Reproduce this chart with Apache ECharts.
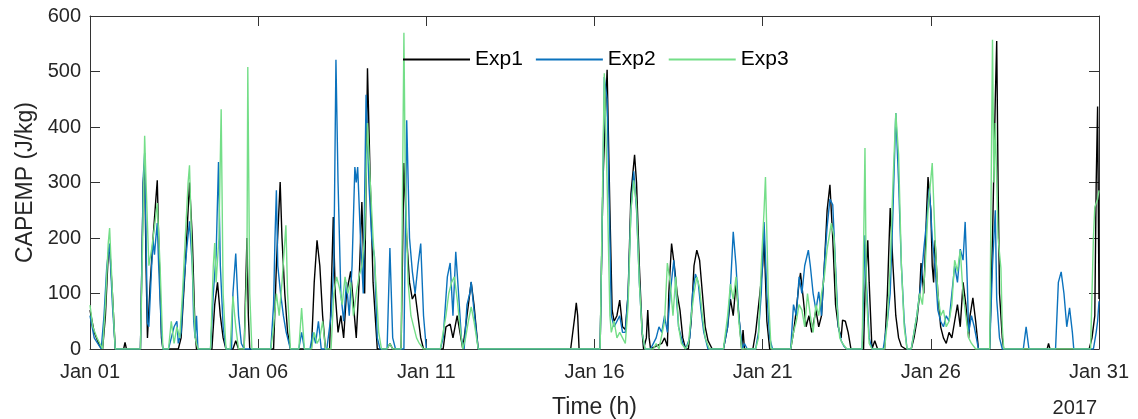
<!DOCTYPE html>
<html><head><meta charset="utf-8">
<script src="https://cdn.jsdelivr.net/npm/echarts@6/dist/echarts.min.js"></script>
<style>html,body{margin:0;padding:0;background:#fff}#c{width:1138px;height:419px}</style>
</head><body><div id="c"></div>
<script>
// hours since Jan 01 00:00, value (J/kg)
const seriesNames = ['Exp1', 'Exp2', 'Exp3'];
const xTickLabels = ['Jan 01', 'Jan 06', 'Jan 11', 'Jan 16', 'Jan 21', 'Jan 26', 'Jan 31'];
const yearLabel = '2017';

const exp1 = [[0,70],[3,30],[7,5],[9,0],[11,60],[13,170],[14,185],[16,100],[18,0],[24,0],[25,12],[26,0],[36,0],[38,300],[39,335],[40,150],[41,20],[43,120],[45,200],[47,270],[48,304],[49,200],[51,20],[52,0],[63,0],[65,20],[68,150],[71,300],[73,200],[75,30],[76,0],[87,0],[89,80],[91,120],[93,60],[95,20],[97,0],[102,0],[104,15],[106,0],[110,0],[112,200],[113,60],[114,0],[131,0],[133,150],[135.7,301],[137,200],[139,100],[141,30],[143,0],[158,0],[160,120],[162,196],[164,150],[166,60],[168,0],[171,0],[173.6,238],[175,100],[177,30],[179,60],[181,20],[183,100],[186,140],[188,80],[190,20],[192,120],[194,265],[196,100],[198,506],[200,300],[202,120],[205,0],[212,0],[214,10],[216,0],[222,0],[224,335],[226,200],[228,120],[230,90],[232,100],[234,60],[236,20],[238,0],[252,0],[254,40],[257,45],[259,20],[262,60],[264,30],[266,0],[268,40],[270,80],[272,120],[274,80],[277,0],[343,0],[346,60],[347,83],[348,60],[349,0],[364,0],[366,300],[369,503],[371,250],[372.6,70],[374,50],[376,60],[378,88],[380,40],[382,35],[384,100],[386,280],[388.6,350],[390,300],[392,150],[394,30],[395,0],[397,20],[398,70],[399,20],[400,0],[404,5],[408,10],[410,20],[412,5],[413,100],[415,190],[417,150],[419,100],[421,70],[423,20],[425,0],[427,0],[429,50],[431,150],[433,178],[435,160],[437,100],[439,40],[441,15],[444,0],[452,0],[455,40],[457,90],[459,60],[461,120],[463,60],[465,0],[466,34],[467,0],[473,0],[475,30],[478,100],[480,150],[481,202],[483,50],[485,0],[500,0],[502,30],[504,70],[506,120],[507,137],[509,90],[511,40],[513,60],[515,30],[518,70],[520,40],[522,60],[524,150],[526,250],[528,296],[530,200],[532,80],[534,40],[536,20],[537,52],[539,50],[541,30],[543,0],[552,0],[553,100],[555,196],[556,120],[558,0],[560,15],[562,0],[567,0],[569,100],[571,254],[573,150],[575,60],[577,20],[579,5],[582,0],[586,0],[588,20],[590,50],[592,100],[593,155],[595,100],[597,250],[598,310],[600,250],[601,150],[602,120],[603,196],[605,100],[607,40],[609,20],[611,10],[613,30],[615,20],[617,50],[619,80],[621,40],[623,120],[625,80],[627,20],[628,60],[630,92],[632,50],[634,0],[642,0],[644,200],[646,450],[647,555],[648,300],[649,100],[651,20],[652,0],[683,0],[684,10],[685,0],[713,0],[715,20],[717,60],[718,300],[719,437],[720,90]];

const exp2 = [[0,60],[3,20],[8,0],[10,60],[12,150],[14,190],[16,80],[18,0],[36,0],[38,310],[39,353],[40,200],[41,47],[42,40],[44,150],[45,196],[46,170],[47,200],[48,227],[49,150],[51,30],[52,0],[56,0],[58,20],[60,40],[62,50],[63,10],[65,30],[67,120],[69,180],[71,230],[73,150],[74,50],[75,20],[76,60],[77,0],[86,0],[88,100],[90,170],[91.7,337],[93,150],[95,40],[97,0],[101,0],[102,100],[104,172],[106,60],[108,10],[110,0],[129,0],[131,80],[132,200],[133,286],[134,150],[136,100],[138,60],[140,30],[142,10],[143,0],[149,0],[151,30],[153,0],[157,0],[159,30],[161,10],[163,50],[165,0],[169,0],[172,60],[174,150],[175.5,521],[177,300],[179,100],[181,50],[183,120],[185,60],[187,150],[189,328],[190,300],[191,328],[193,200],[195,100],[197,458],[199,300],[201,200],[203,166],[205,20],[207,0],[212,0],[214,182],[216,20],[218,0],[224,0],[226,412],[228,200],[230,140],[232,100],[234,150],[236,190],[238,60],[240,0],[250,0],[252,20],[255,130],[257,155],[259,60],[261,175],[263,100],[265,20],[267,0],[269,80],[271,100],[272,121],[274,70],[277,0],[364,0],[366,300],[367,490],[369,450],[371,200],[372,60],[374,40],[376,50],[378,60],[380,30],[382,30],[384,100],[386,250],[388,320],[390,250],[392,120],[394,30],[396,0],[400,0],[404,20],[406,40],[408,30],[410,60],[412,30],[414,100],[416.6,160],[418,110],[420,40],[423,10],[425,0],[428,20],[430,100],[432,135],[434,120],[436,70],[438,30],[441,0],[452,0],[455,40],[457,110],[459,211],[461,150],[463,60],[465.5,0],[467,10],[469,0],[475,0],[477,30],[479,100],[481,229],[483,100],[485,20],[487,0],[500,0],[502,80],[504,60],[506,130],[508,100],[510,150],[512.6,178],[514,150],[516,100],[518,70],[520,103],[522,60],[524,150],[526,220],[528,270],[530,260],[532,150],[534,40],[536,15],[538,5],[540,0],[551,0],[553,205],[554,120],[556,20],[558,0],[566,0],[569,50],[571,100],[573,250],[575,425],[577,300],[579,150],[581,50],[583,0],[586,0],[590,60],[593,120],[595,180],[597,230],[599,290],[601,200],[603,150],[605,70],[607,50],[609,40],[611,60],[613,50],[615,100],[617,150],[619,120],[621,180],[623,160],[624.5,229],[626,120],[627,30],[629,60],[631,40],[634,0],[642,0],[644,150],[646,250],[647,90],[649,20],[651,0],[666,0],[668,40],[670,0],[689,0],[691,120],[693,139],[695,100],[697,40],[699,74],[701,30],[702,0],[716,0],[718,30],[719,50],[720,86]];

const exp3 = [[0,79],[2,40],[5,20],[9,0],[11,80],[13,190],[14,218],[16,100],[18,0],[36,0],[38,250],[39,384],[40,300],[42,150],[44,180],[46,220],[48,263],[50,150],[52,0],[56,0],[58,50],[60,10],[62,40],[64,20],[66,100],[68,200],[70,300],[71,331],[73,150],[75,20],[77,0],[86,0],[88,150],[89,191],[90,120],[92,200],[93.6,432],[95,100],[97,0],[100,0],[102,95],[104,40],[106,0],[110,0],[112,150],[112.6,508],[114,100],[115.5,0],[129,0],[131,40],[133,100],[135,60],[137,120],[139.8,223],[141,100],[143,0],[149,0],[151,74],[153,0],[158,0],[160,30],[162,10],[164,20],[166,50],[168,0],[172,0],[174,100],[176,130],[178,110],[180,80],[182,130],[184,100],[186,120],[188,60],[190,100],[192,132],[194,150],[196,200],[198,407],[200,300],[202,200],[204,120],[206,30],[208,0],[212,0],[214,10],[216,0],[222,0],[224,570],[225,300],[227,120],[229,60],[231,40],[233,20],[235,10],[238,0],[250,0],[252,30],[254,60],[256,100],[258,120],[260,130],[262,90],[264,40],[266,0],[268,20],[270,50],[272,76],[274,50],[277,0],[364,0],[367,497],[369,300],[371,60],[372,30],[374,50],[376,20],[378,30],[380,20],[382,10],[384,80],[386,250],[388,304],[390,260],[392,120],[394,30],[396,0],[402,0],[404,10],[406,0],[410,50],[412,155],[414,120],[416,60],[418,130],[420,40],[422,10],[425,0],[427,10],[429,60],[431,100],[433,130],[435,110],[437,60],[439,20],[442,0],[452,0],[455,60],[457,117],[459,90],[461,130],[463,50],[465,0],[475,0],[477,20],[479,150],[481,250],[482,310],[484,100],[486,0],[500,0],[502,30],[504,50],[506,80],[508,70],[510,40],[512,100],[514,60],[516,30],[518,80],[520,60],[522,100],[524,130],[526,180],[529,227],[531,200],[533,80],[535,20],[537,10],[540,0],[551,0],[553,362],[554,100],[556,10],[558,0],[567,0],[569,50],[571,150],[573,300],[575,425],[577,350],[579,150],[581,40],[583,0],[586,0],[588,30],[590,60],[592,100],[594,80],[596,150],[598,250],[601,335],[603,200],[605,100],[607,60],[609,70],[611,40],[613,50],[615,80],[617,160],[619,140],[621,178],[623,100],[625,60],[627,20],[629,10],[632,0],[642,0],[644,557],[645,300],[646,407],[648,200],[650,146],[651,40],[652,0],[714,0],[716,200],[717,256],[719,270],[720,286]];

const colors = ['#000000', '#0b72bd', '#74de88'];
const FONT = 'Liberation Sans, Arial, Helvetica, sans-serif';
const AX = '#333333';

const chart = echarts.init(document.getElementById('c'));
const xCommon = {
  type: 'value', min: 0, max: 720, interval: 120,
  axisLine: { show: true, onZero: false, lineStyle: { color: AX, width: 1 } },
  axisTick: { show: true, inside: true, length: 10, lineStyle: { color: AX } },
  splitLine: { show: false }
};
const yCommon = {
  type: 'value', min: 0, max: 600, interval: 100,
  axisLine: { show: true, onZero: false, lineStyle: { color: AX, width: 1 } },
  axisTick: { show: true, inside: true, length: 10, lineStyle: { color: AX } },
  splitLine: { show: false }
};
chart.setOption({
  animation: false,
  backgroundColor: '#ffffff',
  grid: { left: 90, right: 39, top: 16, bottom: 70, containLabel: false, outerBoundsMode: 'none' },
  legend: {
    data: seriesNames, top: 44, left: 398,
    icon: 'rect', itemWidth: 67, itemHeight: 2, itemGap: 13,
    textStyle: { fontFamily: FONT, fontSize: 21, color: '#000' }
  },
  xAxis: [
    Object.assign({}, xCommon, {
      position: 'bottom',
      name: 'Time (h)', nameLocation: 'middle', nameGap: 47,
      nameTextStyle: { fontFamily: FONT, fontSize: 23, color: '#262626' },
      axisLabel: { show: true, margin: 13, fontFamily: FONT, fontSize: 20, color: '#262626',
        formatter: v => xTickLabels[Math.round(v / 120)] }
    }),
    Object.assign({}, xCommon, { position: 'top', axisLabel: { show: false } })
  ],
  yAxis: [
    Object.assign({}, yCommon, {
      position: 'left',
      name: 'CAPEMP (J/kg)', nameLocation: 'middle', nameGap: 52,
      nameTextStyle: { fontFamily: FONT, fontSize: 23, color: '#262626' },
      axisLabel: { show: true, margin: 9, fontFamily: FONT, fontSize: 20, color: '#262626' }
    }),
    Object.assign({}, yCommon, { position: 'right', axisLabel: { show: false } })
  ],
  graphic: [{
    type: 'text', right: 41, top: 398,
    style: { text: yearLabel, fontFamily: FONT, fontSize: 20, fill: '#262626' }
  }],
  series: [exp1, exp2, exp3].map((d, i) => ({
    name: seriesNames[i], type: 'line', data: d, showSymbol: false, symbol: 'none',
    xAxisIndex: 0, yAxisIndex: 0,
    lineStyle: { color: colors[i], width: 1.4 }, itemStyle: { color: colors[i] }
  }))
});
</script></body></html>
